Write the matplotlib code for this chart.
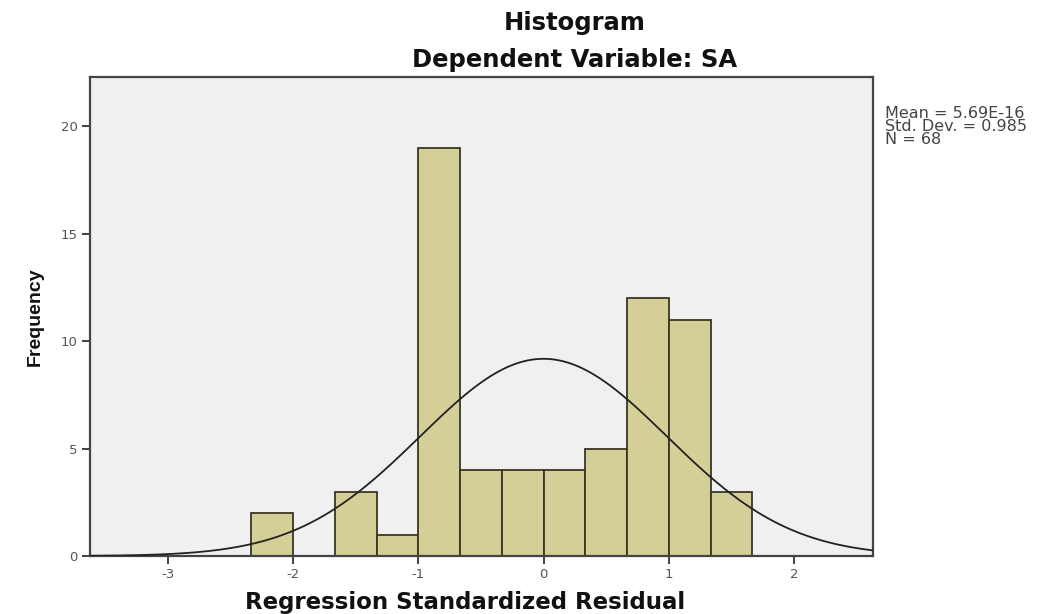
import numpy as np
import matplotlib
matplotlib.use("Agg")
import matplotlib.pyplot as plt

# ---- data ----
bin_edges = [-2.333, -2.0, -1.667, -1.333, -1.0, -0.667, -0.333, 0.0, 0.333, 0.667, 1.0, 1.333, 1.667]
counts = [2, 0, 3, 1, 19, 4, 4, 4, 5, 12, 11, 3]
mean_val = 5.69e-16
std_val = 0.985
n_val = 68
x_ticks = [-3, -2, -1, 0, 1, 2]
y_ticks = [0, 5, 10, 15, 20]

W, H = 1043, 614
fig = plt.figure(figsize=(W / 100, H / 100), dpi=100)
fig.patch.set_facecolor("white")

left, right, top, bottom = 90, 873, 77, 556
ax = fig.add_axes([left / W, 1 - bottom / H, (right - left) / W, (bottom - top) / H])
ax.set_facecolor("#f0f0f0")

edges = np.array(bin_edges)
widths = np.diff(edges)
ax.bar(edges[:-1], counts, width=widths, align="edge",
       color="#d3cf96", edgecolor="#3b3623", linewidth=1.3, zorder=2)

# fitted normal curve scaled to counts
xmin, xmax = -3.62, 2.63
xs = np.linspace(xmin, xmax, 400)
bw = float(np.mean(widths))
ys = n_val * bw / (std_val * np.sqrt(2 * np.pi)) * np.exp(-0.5 * ((xs - mean_val) / std_val) ** 2)
ax.plot(xs, ys, color="#222222", linewidth=1.3, zorder=3)

ax.set_xlim(xmin, xmax)
ax.set_ylim(0, 22.3)
ax.set_xticks(x_ticks)
ax.set_yticks(y_ticks)
ax.set_xticklabels([str(t) for t in x_ticks])
ax.set_yticklabels([str(t) for t in y_ticks])
ax.tick_params(axis="both", direction="out", length=6, width=1.3, color="#333333",
               labelsize=9.5, labelcolor="#555555", pad=3)

for s in ax.spines.values():
    s.set_color("#444444")
    s.set_linewidth(1.6)

ax.set_xlabel("Regression Standardized Residual", fontsize=16.5, fontweight="bold",
              family=["DejaVu Sans"], color="#111111")
ax.xaxis.set_label_coords((465 - left) / (right - left), -(603 - bottom) / (bottom - top))
ax.xaxis.label.set_va("center")
ax.set_ylabel("Frequency", fontsize=14, fontweight="bold",
              family=["Liberation Sans Narrow", "Liberation Sans", "DejaVu Sans"],
              color="#111111", labelpad=12)

cx = 575 / W
fig.text(cx, 1 - 23 / H, "Histogram", ha="center", va="center", fontsize=17.5,
         fontweight="bold", family=["DejaVu Sans"], color="#111111")
fig.text(cx, 1 - 60 / H, "Dependent Variable: SA", ha="center", va="center", fontsize=17.5,
         fontweight="bold", family=["DejaVu Sans"], color="#111111")

fig.text(885 / W, 1 - 106 / H,
         "Mean = 5.69E-16\nStd. Dev. = 0.985\nN = %d" % n_val,
         ha="left", va="top", fontsize=11.5, color="#444444", linespacing=0.85,
         family=["DejaVu Sans"])

fig.savefig("out.png", dpi=100, facecolor="white")
